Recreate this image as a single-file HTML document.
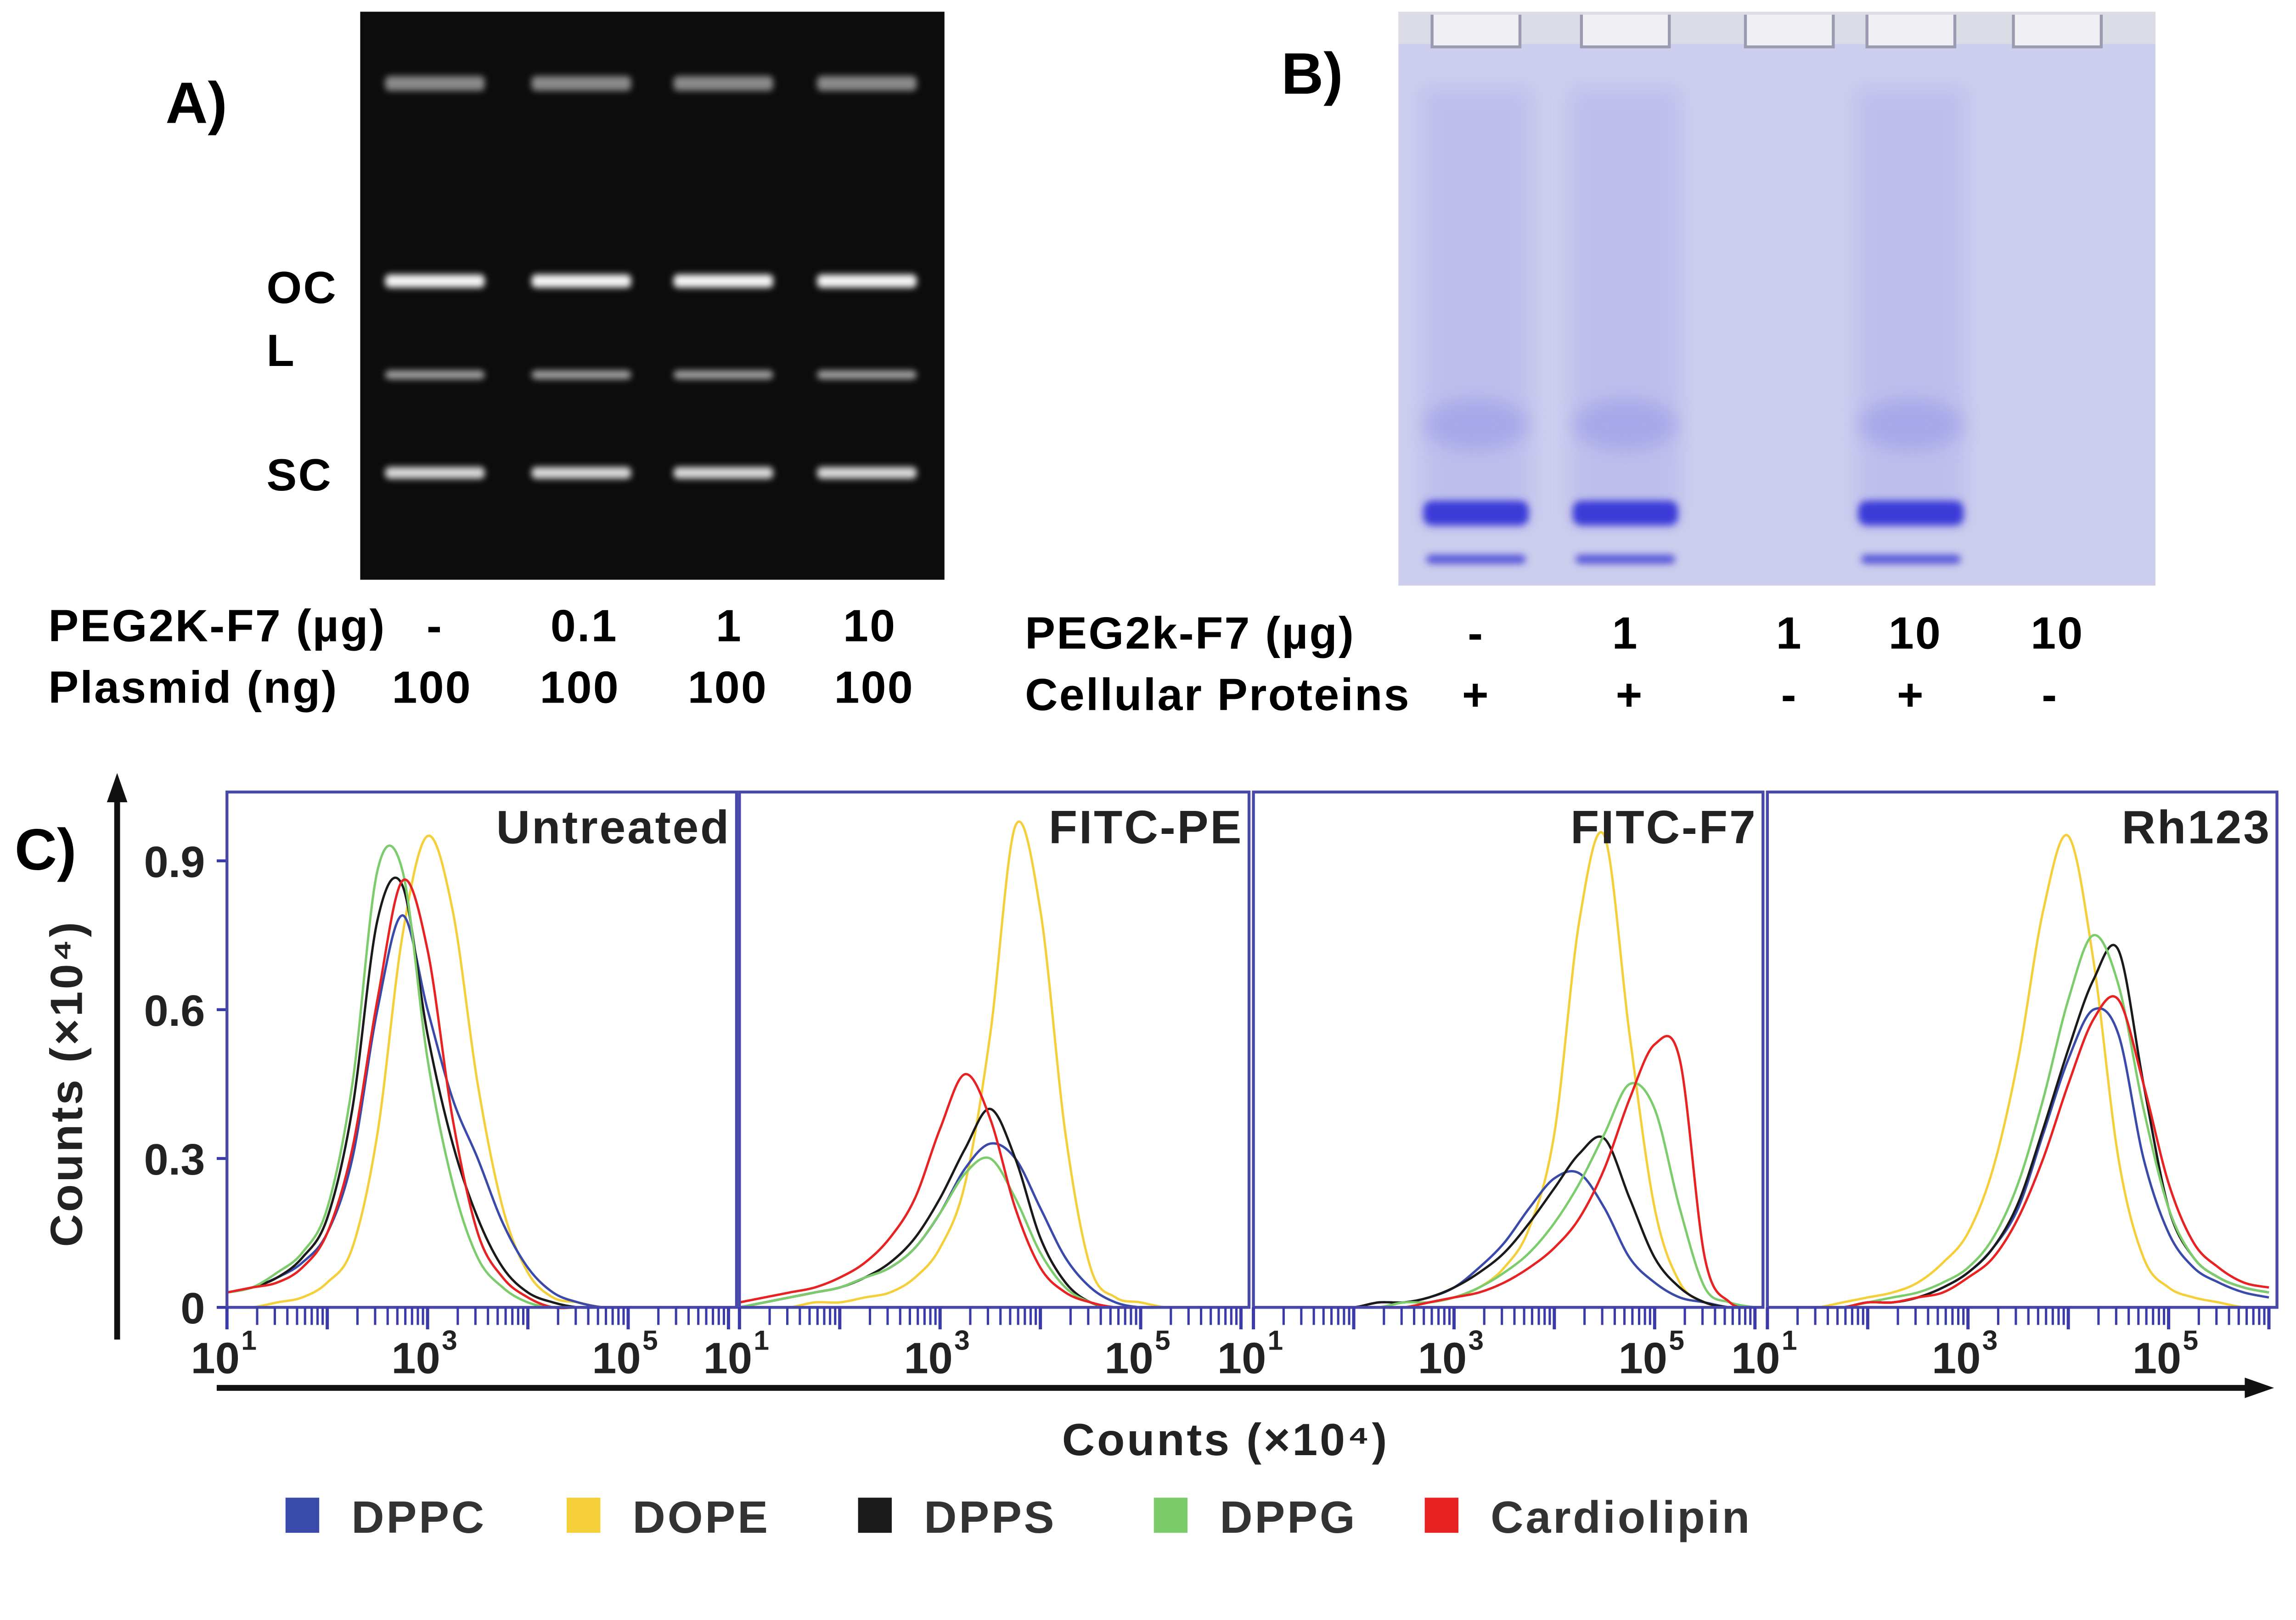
<!DOCTYPE html>
<html><head><meta charset="utf-8"><style>
html,body{margin:0;padding:0;background:#fff;overflow:hidden;width:100%;height:100%;}
svg{display:block;width:100vw;height:68.293vw;background:#fff;}
text{font-family:"Liberation Sans",Arial,sans-serif;font-weight:bold;}
.lab{font-size:31px;letter-spacing:1px;}
</style></head><body>
<svg id="fig" viewBox="0 0 1568 1071" preserveAspectRatio="none" xmlns="http://www.w3.org/2000/svg">
<defs>
<filter id="glow" x="-20%" y="-200%" width="140%" height="500%"><feGaussianBlur stdDeviation="2.2"/></filter>
<filter id="soft" x="-30%" y="-30%" width="160%" height="160%"><feGaussianBlur stdDeviation="6"/></filter>
<filter id="soft2" x="-30%" y="-100%" width="160%" height="300%"><feGaussianBlur stdDeviation="2.5"/></filter>
</defs>

<g>
<text x="113" y="84" font-size="40">A)</text>
<rect x="246" y="8" width="399" height="388" fill="#0c0c0c"/>
<g id="gelA"></g>
<text x="182" y="207" class="lab">OC</text>
<text x="182" y="250" class="lab">L</text>
<text x="182" y="335" class="lab">SC</text>
<text x="33" y="438" class="lab">PEG2K-F7 (µg)</text>
<text x="33" y="480" class="lab">Plasmid (ng)</text>
<g class="lab" text-anchor="middle">
<text x="297" y="438">-</text>
<text x="399" y="438">0.1</text>
<text x="498" y="438">1</text>
<text x="594" y="438">10</text>
<text x="295" y="480">100</text>
<text x="396" y="480">100</text>
<text x="497" y="480">100</text>
<text x="597" y="480">100</text>
</g>
</g>

<g>
<text x="875" y="64" font-size="40">B)</text>
<rect x="955" y="8" width="517" height="392" fill="#cdcdee"/>
<rect x="955" y="8" width="517" height="22" fill="#dcdce6"/>
<g id="gelB"></g>
<text x="700" y="443" class="lab">PEG2k-F7 (µg)</text>
<text x="700" y="485" class="lab">Cellular Proteins</text>
<g class="lab" text-anchor="middle">
<text x="1008" y="443">-</text>
<text x="1110" y="443">1</text>
<text x="1222" y="443">1</text>
<text x="1308" y="443">10</text>
<text x="1405" y="443">10</text>
<text x="1008" y="485">+</text>
<text x="1113" y="485">+</text>
<text x="1222" y="485">-</text>
<text x="1305" y="485">+</text>
<text x="1400" y="485">-</text>
</g>
</g>

<g>
<text x="10" y="594" font-size="40">C)</text>
<g id="chart"></g>
<line x1="80" y1="915" x2="80" y2="545" stroke="#111" stroke-width="4"/>
<polygon points="80,528 73,548 87,548" fill="#111"/>
<line x1="148" y1="948" x2="1535" y2="948" stroke="#111" stroke-width="4"/>
<polygon points="1553,948 1533,941 1533,955" fill="#111"/>
<text transform="translate(56,740) rotate(-90)" font-size="31" letter-spacing="1.5" text-anchor="middle" fill="#222">Counts (×10⁴)</text>
<text x="837" y="994" font-size="31" letter-spacing="1.5" text-anchor="middle" fill="#222">Counts (×10⁴)</text>
<g id="legend"></g>
</g>
</svg>
<script>
const NS='http://www.w3.org/2000/svg';
function mk(tag,attrs,parent){const e=document.createElementNS(NS,tag);for(const k in attrs)e.setAttribute(k,attrs[k]);parent.appendChild(e);return e;}

const gelALanes=[297,397,494,592];
const gelABands=[{y:57,h:10,c:'#8a8a8a'},{y:192,h:9,c:'#f4f4f4'},{y:256,h:6,c:'#a0a0a0'},{y:323,h:8,c:'#d8d8d8'}];
const gA=document.getElementById('gelA');
gelALanes.forEach((cx,i)=>{
  gelABands.forEach((b,j)=>{
    const r=mk('rect',{x:cx-34,y:b.y-b.h/2,width:68,height:b.h,rx:3,fill:b.c,filter:'url(#glow)'},gA);
    
    
  });
});

const gelBLanes=[1008,1110,1222,1305,1405];
const gelBProtein=[1,1,0,1,0];
const gB=document.getElementById('gelB');
gelBLanes.forEach((cx,i)=>{
  if(gelBProtein[i]){
    mk('rect',{x:cx-38,y:60,width:76,height:300,fill:'#b9b9ec',filter:'url(#soft)',opacity:0.7},gB);
    mk('ellipse',{cx:cx,cy:290,rx:35,ry:18,fill:'#a8a8ea',filter:'url(#soft)'},gB);
    const b=mk('rect',{x:cx-36,y:342,width:72,height:17,rx:6,fill:'#3a3ad8',filter:'url(#soft2)'},gB);
    
    
    mk('rect',{x:cx-34,y:379,width:68,height:6,rx:3,fill:'#5050d8',filter:'url(#soft2)'},gB);
  }
  mk('path',{d:`M${cx-30},10 L${cx-30},32 L${cx+30},32 L${cx+30},10`,fill:'#f0f0f4',stroke:'#9a9ab0','stroke-width':2},gB);
});

const logGrid=[1,1.25,1.5,1.75,2,2.25,2.5,2.75,3,3.25,3.5,3.75,4,4.25,4.5,4.75,5,5.25,5.5,5.75,6];
const panelNames=['Untreated','FITC-PE','FITC-F7','Rh123'];
const seriesNames=['DPPC','DOPE','DPPS','DPPG','Cardiolipin'];
const seriesColors=['#3a4aaa','#f4cf3a','#1a1a1a','#7ccc6c','#e82222'];
const untreatedDPPC=[0.03,0.04,0.06,0.09,0.15,0.30,0.60,0.79,0.60,0.42,0.30,0.17,0.08,0.03,0.01,0,0,0,0,0,0];
const untreatedDOPE=[0,0,0.01,0.02,0.05,0.12,0.35,0.75,0.95,0.80,0.45,0.20,0.07,0.02,0.01,0,0,0,0,0,0];
const untreatedDPPS=[0.03,0.04,0.06,0.10,0.18,0.40,0.78,0.85,0.55,0.33,0.18,0.08,0.03,0.01,0,0,0,0,0,0,0];
const untreatedDPPG=[0.03,0.04,0.07,0.11,0.20,0.45,0.88,0.88,0.50,0.25,0.10,0.04,0.01,0,0,0,0,0,0,0,0];
const untreatedCL=[0.03,0.04,0.05,0.08,0.15,0.32,0.62,0.86,0.72,0.38,0.15,0.06,0.02,0,0,0,0,0,0,0,0];
const fitcpeDPPC=[0,0.01,0.02,0.03,0.04,0.06,0.08,0.12,0.19,0.28,0.33,0.30,0.20,0.10,0.04,0.01,0,0,0,0,0];
const fitcpeDOPE=[0,0,0,0.01,0.01,0.02,0.03,0.06,0.12,0.25,0.55,0.97,0.80,0.35,0.08,0.02,0.01,0,0,0,0];
const fitcpeDPPS=[0,0.01,0.02,0.03,0.04,0.06,0.09,0.14,0.22,0.32,0.40,0.30,0.14,0.05,0.01,0,0,0,0,0,0];
const fitcpeDPPG=[0,0.01,0.02,0.03,0.04,0.06,0.08,0.12,0.19,0.27,0.30,0.22,0.11,0.04,0.01,0,0,0,0,0,0];
const fitcpeCL=[0.01,0.02,0.03,0.04,0.06,0.09,0.14,0.22,0.36,0.47,0.38,0.20,0.08,0.03,0.01,0,0,0,0,0,0];
const fitcf7DPPC=[0,0,0,0,0,0.01,0.01,0.02,0.04,0.08,0.13,0.20,0.26,0.27,0.20,0.10,0.05,0.02,0.01,0,0];
const fitcf7DOPE=[0,0,0,0,0,0,0.01,0.01,0.02,0.04,0.08,0.16,0.35,0.78,0.95,0.55,0.20,0.05,0.01,0,0];
const fitcf7DPPS=[0,0,0,0,0,0.01,0.01,0.02,0.04,0.07,0.11,0.17,0.24,0.31,0.34,0.22,0.10,0.04,0.01,0,0];
const fitcf7DPPG=[0,0,0,0,0,0,0.01,0.01,0.02,0.04,0.07,0.11,0.17,0.25,0.35,0.45,0.40,0.20,0.04,0.01,0];
const fitcf7CL=[0,0,0,0,0,0,0,0.01,0.02,0.03,0.05,0.08,0.12,0.18,0.28,0.42,0.53,0.50,0.10,0.01,0];
const rh123DPPC=[0,0,0,0,0.01,0.01,0.02,0.04,0.07,0.12,0.20,0.35,0.50,0.60,0.55,0.30,0.15,0.08,0.05,0.03,0.02];
const rh123DOPE=[0,0,0,0.01,0.02,0.03,0.05,0.09,0.15,0.28,0.50,0.80,0.95,0.70,0.30,0.10,0.04,0.02,0.01,0,0];
const rh123DPPS=[0,0,0,0,0.01,0.01,0.02,0.04,0.07,0.12,0.21,0.36,0.52,0.66,0.72,0.45,0.20,0.10,0.06,0.04,0.03];
const rh123DPPG=[0,0,0,0,0.01,0.02,0.03,0.05,0.08,0.14,0.25,0.42,0.62,0.75,0.65,0.40,0.20,0.10,0.06,0.04,0.03];
const rh123CL=[0,0,0,0,0.01,0.01,0.02,0.03,0.06,0.10,0.18,0.30,0.45,0.58,0.62,0.45,0.25,0.13,0.08,0.05,0.04];
const panelData=[
 [untreatedDPPC,untreatedDOPE,untreatedDPPS,untreatedDPPG,untreatedCL],
 [fitcpeDPPC,fitcpeDOPE,fitcpeDPPS,fitcpeDPPG,fitcpeCL],
 [fitcf7DPPC,fitcf7DOPE,fitcf7DPPS,fitcf7DPPG,fitcf7CL],
 [rh123DPPC,rh123DOPE,rh123DPPS,rh123DPPG,rh123CL]];
const yTicks=[0,0.3,0.6,0.9];
const yTickLabels=['0','0.3','0.6','0.9'];
const xMajor=[1,3,5];

const panelLeft=[155,505,856,1207], panelW=348, panelTop=541, y0=893;
const decade=68.5;
function xs(p,lg){return panelLeft[p]+(lg-1)*decade;}
function ys(v){return y0-v*(y0-588)/0.9;}
function smooth(pts){let d=`M${pts[0][0]},${pts[0][1]}`;for(let i=0;i<pts.length-1;i++){const p0=pts[Math.max(0,i-1)],p1=pts[i],p2=pts[i+1],p3=pts[Math.min(pts.length-1,i+2)];d+=` C${p1[0]+(p2[0]-p0[0])/6},${p1[1]+(p2[1]-p0[1])/6} ${p2[0]-(p3[0]-p1[0])/6},${p2[1]-(p3[1]-p1[1])/6} ${p2[0]},${p2[1]}`;}return d;}

const chart=document.getElementById('chart');
yTicks.forEach((v,i)=>{
  mk('line',{x1:148,x2:155,y1:ys(v),y2:ys(v),stroke:'#3a3aa8','stroke-width':2},chart);
  const l=mk('text',{x:140,y:ys(v)+11,'font-size':30,'text-anchor':'end',fill:'#222'},chart);
  l.textContent=yTickLabels[i];
  
  
});
panelNames.forEach((nm,p)=>{
  const g=mk('g',{},chart);
  
  
  const clipId='clip'+p;
  const cp=mk('clipPath',{id:clipId},g);mk('rect',{x:panelLeft[p],y:panelTop,width:panelW,height:y0-panelTop+2},cp);
  const sg=mk('g',{'clip-path':`url(#${clipId})`},g);
  const order=[1,0,2,3,4];
  order.forEach(s=>{
    const pts=logGrid.map((lg,i)=>[xs(p,lg),ys(panelData[p][s][i])]);
    const path=mk('path',{d:smooth(pts),fill:'none',stroke:seriesColors[s],'stroke-width':1.6},sg);
    
    
  });
  const box=mk('rect',{x:panelLeft[p],y:panelTop,width:panelW,height:y0-panelTop,fill:'none',stroke:'#4848aa','stroke-width':2},g);
  
  
  const tt=mk('text',{x:panelLeft[p]+panelW-4,y:576,'font-size':32,'letter-spacing':1.2,'text-anchor':'end',fill:'#222'},g);
  tt.textContent=nm;
  
  
  for(let d=1;d<=6;d++){for(let m=1;m<=9;m++){const lg=d+Math.log10(m);const x=xs(p,lg);if(x>panelLeft[p]+panelW)continue;
    mk('line',{x1:x,x2:x,y1:y0,y2:y0+(m==1?15:12),stroke:'#3a3aa8','stroke-width':m==1?2.2:1.6},g);}}
  xMajor.forEach(e=>{
    const t=mk('text',{x:xs(p,e)-8,y:938,'font-size':30,'text-anchor':'middle',fill:'#222'},g);
    t.textContent='10';
    
    
    const s=mk('text',{x:xs(p,e)+15,y:922,'font-size':19,'text-anchor':'middle',fill:'#222'},g);s.textContent=String(e);
  });
});
const lg=document.getElementById('legend');
const legX=[207,399,598,800,985];
seriesNames.forEach((n,i)=>{
  const r=mk('rect',{x:legX[i]-12,y:1023,width:23,height:24,fill:seriesColors[i]},lg);
  
  
  const t=mk('text',{x:legX[i]+33,y:1047,'font-size':31,'letter-spacing':1.5,fill:'#333'},lg);t.textContent=n;
  
  
});
</script>
</body></html>
